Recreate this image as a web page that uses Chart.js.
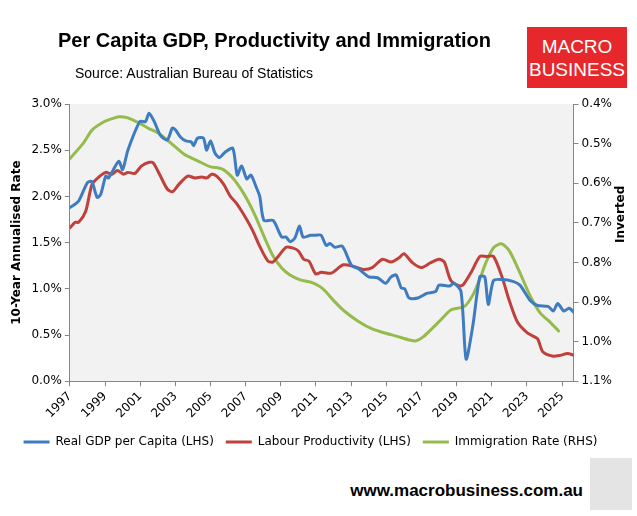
<!DOCTYPE html>
<html>
<head>
<meta charset="utf-8">
<script src="https://cdn.jsdelivr.net/npm/chart.js@4"></script>
<style>
  body { margin: 0; background: #fff; font-family: "DejaVu Sans", sans-serif; }
  #wrap { position: relative; width: 637px; height: 516px; }
  #chart { position: absolute; left: 0; top: 0; }
  .title { position: absolute; left: 58px; top: 29px; font: bold 20px "Liberation Sans", sans-serif; }
  .source { position: absolute; left: 75px; top: 65px; font: 14px "Liberation Sans", sans-serif; }
  .logo { position: absolute; left: 527px; top: 27px; width: 100px; height: 61px; background: #e6282c;
          color: #fff; text-align: center; font: 19px "Liberation Sans Narrow", "Liberation Sans", sans-serif; line-height: 23px; padding-top: 8px; box-sizing: border-box; }
  .rtitle { position: absolute; left: 613px; top: 243px; transform: rotate(-90deg); transform-origin: left top;
            font: bold 12px "DejaVu Sans", sans-serif; }
  .footer { position: absolute; right: 54px; top: 481px; font: bold 17px "Liberation Sans", sans-serif; }
  .fox { position: absolute; left: 590px; top: 458px; width: 42px; height: 52px; background: #e4e4e4; }
</style>
</head>
<body>
<div id="wrap">
  <canvas id="chart" width="637" height="458"></canvas>
  <div class="title">Per Capita GDP, Productivity and Immigration</div>
  <div class="source">Source: Australian Bureau of Statistics</div>
  <div class="logo">MACRO<br>BUSINESS</div>
  <div class="rtitle">Inverted</div>
  <div class="footer">www.macrobusiness.com.au</div>
  <div class="fox"></div>
</div>
<script>
// Year ticks on x axis
const yearTicks = [1997, 1999, 2001, 2003, 2005, 2007, 2009, 2011, 2013, 2015, 2017, 2019, 2021, 2023, 2025];

// Real GDP per capita, 10-year annualised (%)
const gdpYears = [1997.0, 1997.25, 1997.5, 1998.0, 1998.25, 1998.55, 1998.75, 1999.04, 1999.2, 1999.78, 2000.0, 2000.3, 2000.98, 2001.3, 2001.5, 2001.8,
  2002.15, 2002.54, 2002.83, 2003.0, 2003.3, 2003.6, 2003.9, 2004.05, 2004.25, 2004.6, 2004.77, 2005.0, 2005.25, 2005.5, 2005.84, 2006.27,
  2006.52, 2006.77, 2007.06, 2007.3, 2007.6, 2007.8, 2008.04, 2008.56, 2009.05, 2009.3, 2009.53, 2009.8, 2010.06, 2010.27, 2010.7, 2011.0,
  2011.29, 2011.58, 2011.8, 2012.06, 2012.5, 2013.03, 2013.4, 2014.0, 2014.5, 2014.97, 2015.27, 2015.56, 2015.85, 2016.05, 2016.3, 2016.8,
  2017.3, 2017.8, 2018.0, 2018.6, 2018.85, 2019.25, 2019.54, 2019.93, 2020.32, 2020.6, 2020.8, 2021.1, 2021.58, 2022.2, 2022.6, 2023.2,
  2023.6, 2024.2, 2024.5, 2024.75, 2025.1, 2025.4, 2025.7];
const gdpValues = [1.88, 1.91, 1.95, 2.15, 2.16, 1.99, 2.02, 2.22, 2.20, 2.38, 2.29, 2.50, 2.81, 2.81, 2.90, 2.81,
  2.66, 2.61, 2.74, 2.72, 2.64, 2.60, 2.59, 2.55, 2.63, 2.63, 2.50, 2.60, 2.47, 2.42, 2.48, 2.52,
  2.23, 2.33, 2.19, 2.23, 2.10, 2.00, 1.74, 1.74, 1.56, 1.56, 1.51, 1.55, 1.68, 1.56, 1.58, 1.58,
  1.58, 1.47, 1.49, 1.45, 1.46, 1.25, 1.22, 1.13, 1.12, 1.06, 1.13, 1.15, 1.01, 1.00, 0.90, 0.90,
  0.95, 0.97, 1.04, 1.03, 1.06, 0.97, 0.24, 0.61, 1.13, 1.13, 0.83, 1.09, 1.10, 1.08, 1.04, 0.87,
  0.82, 0.81, 0.76, 0.84, 0.76, 0.79, 0.74];

// Labour productivity, 10-year annualised (%)
const prodYears = [1997.0, 1997.3, 1997.5, 1997.9, 1998.26, 1998.65, 1999.04, 1999.4, 1999.7, 2000.05, 2000.3, 2000.7, 2001.08, 2001.52, 2001.75,
  2002.15, 2002.54, 2002.84, 2003.2, 2003.7, 2004.1, 2004.5, 2004.8, 2005.06, 2005.35, 2005.75, 2006.13, 2006.5, 2007.0, 2007.4, 2007.8,
  2008.27, 2008.55, 2008.85, 2009.3, 2009.7, 2010.0, 2010.3, 2010.6, 2010.99, 2011.3, 2011.87, 2012.55, 2013.2, 2013.7, 2014.2, 2014.78,
  2015.27, 2015.75, 2016.0, 2016.5, 2017.0, 2017.5, 2018.0, 2018.3, 2018.67, 2019.16, 2019.4, 2019.83, 2020.32, 2020.7, 2021.1, 2021.58,
  2022.0, 2022.46, 2023.04, 2023.6, 2023.9, 2024.5, 2024.9, 2025.3, 2025.7];
const prodValues = [1.66, 1.72, 1.72, 1.84, 2.13, 2.21, 2.26, 2.24, 2.28, 2.24, 2.26, 2.25, 2.33, 2.37, 2.36,
  2.22, 2.08, 2.05, 2.13, 2.22, 2.20, 2.21, 2.20, 2.24, 2.22, 2.13, 2.00, 1.92, 1.77, 1.63, 1.46,
  1.30, 1.29, 1.35, 1.45, 1.44, 1.41, 1.32, 1.30, 1.16, 1.18, 1.17, 1.26, 1.24, 1.21, 1.23, 1.32,
  1.29, 1.34, 1.38, 1.28, 1.23, 1.28, 1.32, 1.29, 1.09, 1.03, 1.05, 1.18, 1.35, 1.35, 1.35, 1.13,
  0.87, 0.64, 0.52, 0.46, 0.32, 0.27, 0.28, 0.30, 0.28];

// Immigration rate (%), right axis inverted
const immYears = [1997.0, 1997.78, 1998.26, 1998.94, 1999.4, 1999.78, 2000.3, 2000.98, 2001.5, 2002.05, 2002.73, 2003.5, 2004.29, 2004.96,
  2005.65, 2006.23, 2006.9, 2007.5, 2008.08, 2008.56, 2009.05, 2009.5, 2010.1, 2010.7, 2011.38, 2012.06, 2012.64, 2013.42, 2014.2,
  2014.97, 2015.56, 2016.33, 2016.7, 2017.1, 2017.6, 2018.1, 2018.67, 2019.45, 2019.93, 2020.3, 2020.7, 2021.1, 2021.55, 2022.0,
  2022.61, 2023.2, 2023.76, 2024.3, 2024.8];
const immValues = [0.538, 0.498, 0.466, 0.445, 0.437, 0.432, 0.435, 0.449, 0.462, 0.474, 0.498, 0.527, 0.544, 0.558,
  0.564, 0.585, 0.627, 0.678, 0.738, 0.784, 0.814, 0.831, 0.844, 0.850, 0.866, 0.899, 0.924, 0.949, 0.968,
  0.979, 0.986, 0.996, 0.998, 0.988, 0.967, 0.945, 0.920, 0.911, 0.882, 0.844, 0.797, 0.763, 0.753, 0.771,
  0.827, 0.886, 0.928, 0.950, 0.973];

const toPoints = (xs, ys) => xs.map((x, i) => ({ x: x, y: ys[i] }));

const plotBackground = {
  id: 'plotBackground',
  beforeDraw(chart) {
    const { ctx, chartArea: a } = chart;
    ctx.save();
    ctx.fillStyle = '#f2f2f2';
    ctx.fillRect(a.left, a.top, a.right - a.left, a.bottom - a.top);
    ctx.restore();
  }
};

const axisColor = '#868686';
const tickFont = { family: 'DejaVu Sans', size: 12 };

new Chart(document.getElementById('chart'), {
  type: 'line',
  data: {
    datasets: [
      { label: 'Real GDP per Capita (LHS)', data: toPoints(gdpYears, gdpValues), borderColor: '#3e7cc1', yAxisID: 'y' },
      { label: 'Labour Productivity (LHS)', data: toPoints(prodYears, prodValues), borderColor: '#c0413c', yAxisID: 'y' },
      { label: 'Immigration Rate (RHS)', data: toPoints(immYears, immValues), borderColor: '#94bb4b', yAxisID: 'y1' }
    ]
  },
  options: {
    responsive: false,
    animation: false,
    elements: {
      point: { radius: 0 },
      line: { borderWidth: 3, tension: 0.25, borderCapStyle: 'round', borderJoinStyle: 'round' }
    },
    layout: { padding: { top: 104, left: 6, right: 22, bottom: 0 } },
    plugins: {
      legend: {
        position: 'bottom',
        labels: {
          boxWidth: 26, boxHeight: 0, padding: 12, color: '#000',
          font: { family: 'DejaVu Sans', size: 12 },
          generateLabels(chart) {
            return chart.data.datasets.map((d, i) => ({
              text: d.label, strokeStyle: d.borderColor, fillStyle: d.borderColor,
              lineWidth: 3, datasetIndex: i
            }));
          }
        }
      },
      tooltip: { enabled: false }
    },
    scales: {
      x: {
        type: 'linear', min: 1997, max: 2025.65,
        afterBuildTicks(axis) { axis.ticks = yearTicks.map(v => ({ value: v })); },
        ticks: { color: '#000', font: tickFont, maxRotation: 45, minRotation: 45, callback: v => String(v) },
        grid: { drawOnChartArea: false, color: axisColor, tickLength: 5 },
        border: { color: axisColor }
      },
      y: {
        position: 'left', min: 0, max: 3,
        ticks: { stepSize: 0.5, color: '#000', font: tickFont, callback: v => v.toFixed(1) + '%' },
        title: { display: true, text: '10-Year Annualised Rate', color: '#000', font: { family: 'DejaVu Sans', size: 12, weight: 'bold' } },
        grid: { drawOnChartArea: false, color: axisColor, tickLength: 5 },
        border: { color: axisColor }
      },
      y1: {
        position: 'right', min: 0.4, max: 1.1, reverse: true,
        ticks: { stepSize: 0.1, color: '#000', font: tickFont, callback: v => v.toFixed(1) + '%' },
        grid: { drawOnChartArea: false, color: axisColor, tickLength: 5 },
        border: { color: axisColor }
      }
    }
  },
  plugins: [plotBackground]
});
</script>
</body>
</html>
